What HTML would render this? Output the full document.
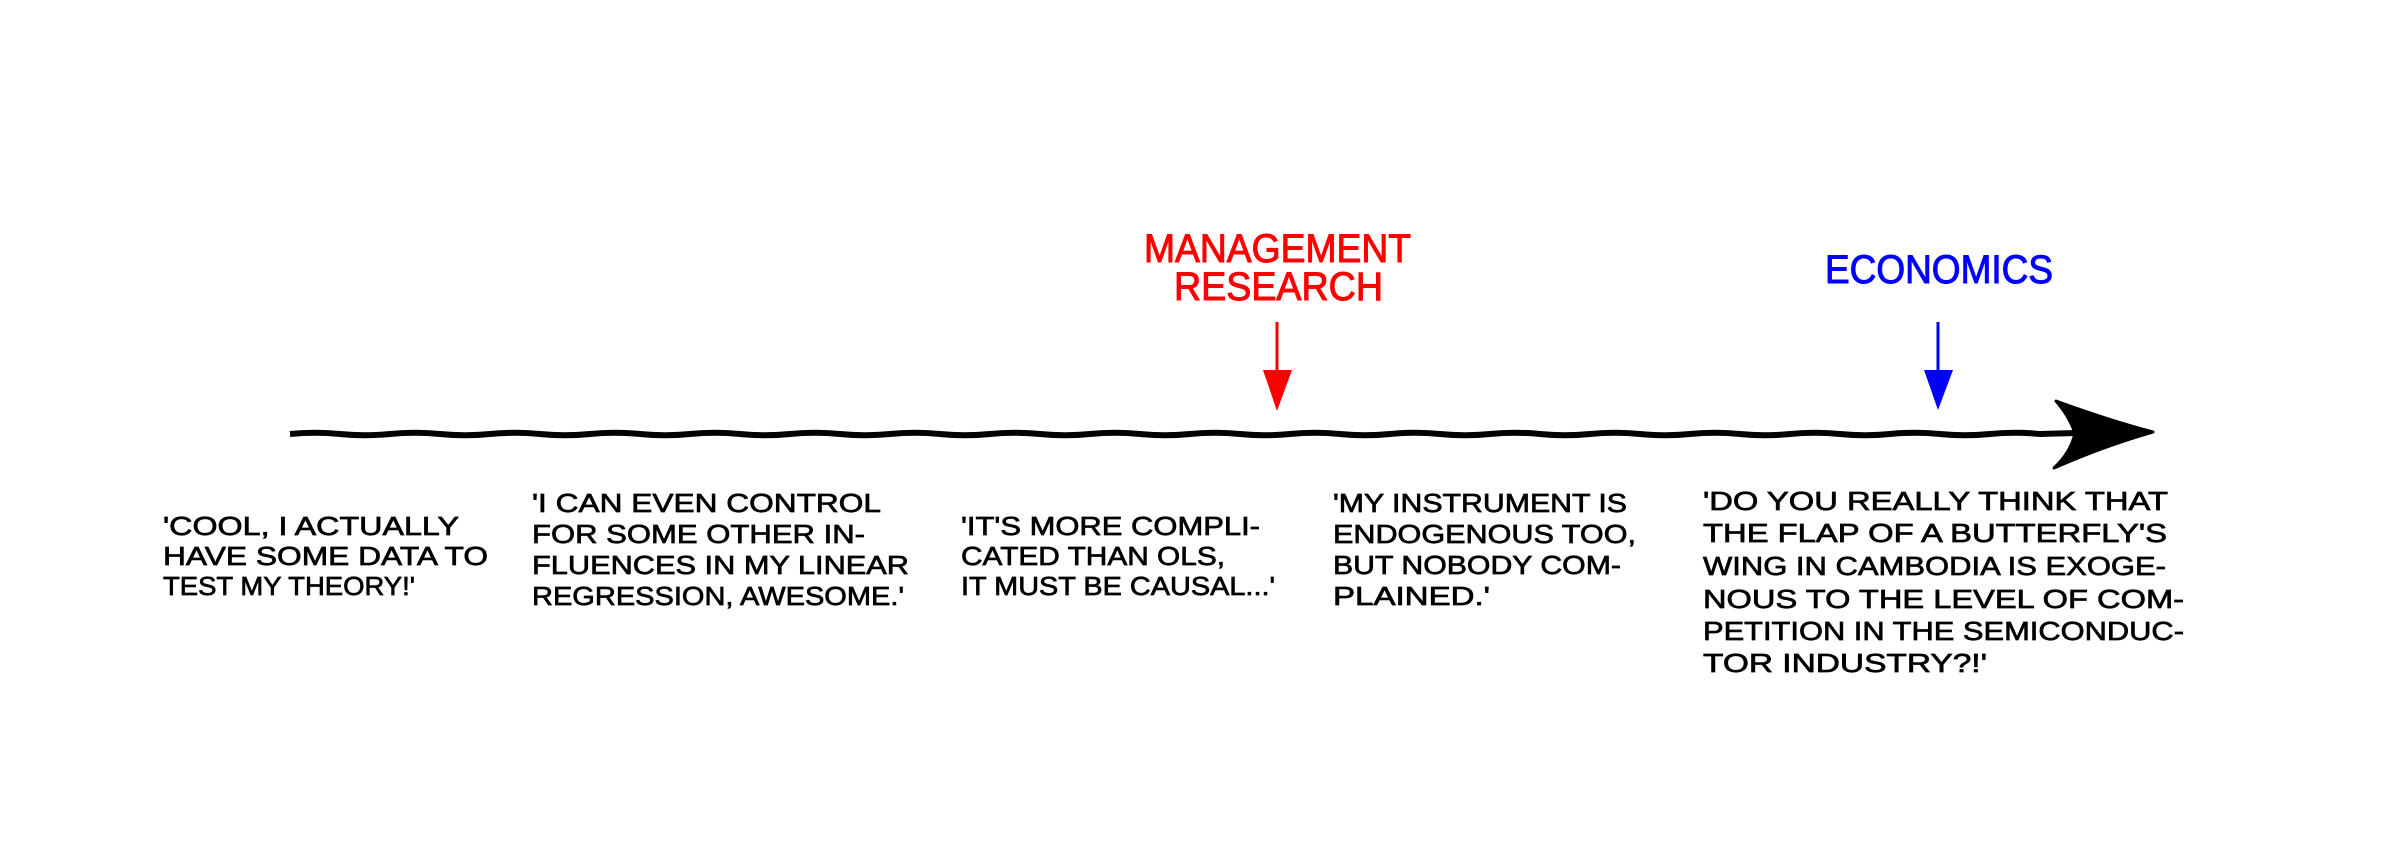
<!DOCTYPE html>
<html><head><meta charset="utf-8"><style>html,body{margin:0;padding:0;background:#fff}svg{display:block}</style></head>
<body>
<svg width="2391" height="858" viewBox="0 0 2391 858" xmlns="http://www.w3.org/2000/svg">
<rect width="2391" height="858" fill="#fff"/>
<path d="M290 434 q25 -2.5 50 0 t50 0 t50 0 t50 0 t50 0 t50 0 t50 0 t50 0 t50 0 t50 0 t50 0 t50 0 t50 0 t50 0 t50 0 t50 0 t50 0 t50 0 t50 0 t50 0 t50 0 t50 0 t50 0 t50 0 t50 0 t50 0 t50 0 t50 0 t50 0 t50 0 t50 0 t50 0 t50 0 t50 0 t50 0 L2075 433" fill="none" stroke="#000" stroke-width="6"/>
<path d="M2056 401 Q2108 420 2153 432 Q2104 446 2054 468 Q2071 452 2075 433 Q2069 416 2056 401 Z" fill="#000" stroke="#000" stroke-width="3" stroke-linejoin="round"/>
<g font-family="Liberation Sans, sans-serif" fill="#f00" stroke="#f00" stroke-width="1" font-size="40">
<text x="1144" y="262" textLength="267" lengthAdjust="spacingAndGlyphs">MANAGEMENT</text>
<text x="1174" y="300" textLength="209" lengthAdjust="spacingAndGlyphs">RESEARCH</text>
</g>
<line x1="1277" y1="322" x2="1277" y2="372" stroke="#f00" stroke-width="3"/>
<path d="M1263 370 L1292 370 L1277 411 Z" fill="#f00"/>
<text x="1825" y="283" font-family="Liberation Sans, sans-serif" fill="#00f" stroke="#00f" stroke-width="1" font-size="40" textLength="228" lengthAdjust="spacingAndGlyphs">ECONOMICS</text>
<line x1="1938" y1="322" x2="1938" y2="372" stroke="#00f" stroke-width="3"/>
<path d="M1924 370 L1953 370 L1938 410 Z" fill="#00f"/>
<g font-family="Liberation Sans, sans-serif" fill="#000" stroke="#000" stroke-width="0.7" font-size="26">
<text x="163" y="535" textLength="296" lengthAdjust="spacingAndGlyphs">'COOL, I ACTUALLY</text>
<text x="163" y="565" textLength="325" lengthAdjust="spacingAndGlyphs">HAVE SOME DATA TO</text>
<text x="163" y="595" textLength="252" lengthAdjust="spacingAndGlyphs">TEST MY THEORY!'</text>

<text x="532" y="512" textLength="349" lengthAdjust="spacingAndGlyphs">'I CAN EVEN CONTROL</text>
<text x="532" y="543" textLength="333" lengthAdjust="spacingAndGlyphs">FOR SOME OTHER IN-</text>
<text x="532" y="574" textLength="377" lengthAdjust="spacingAndGlyphs">FLUENCES IN MY LINEAR</text>
<text x="532" y="605" textLength="372" lengthAdjust="spacingAndGlyphs">REGRESSION, AWESOME.'</text>

<text x="961" y="535" textLength="299" lengthAdjust="spacingAndGlyphs">'IT'S MORE COMPLI-</text>
<text x="961" y="565" textLength="264" lengthAdjust="spacingAndGlyphs">CATED THAN OLS,</text>
<text x="961" y="595" textLength="314" lengthAdjust="spacingAndGlyphs">IT MUST BE CAUSAL...'</text>

<text x="1333" y="512" textLength="294" lengthAdjust="spacingAndGlyphs">'MY INSTRUMENT IS</text>
<text x="1333" y="543" textLength="303" lengthAdjust="spacingAndGlyphs">ENDOGENOUS TOO,</text>
<text x="1333" y="574" textLength="288" lengthAdjust="spacingAndGlyphs">BUT NOBODY COM-</text>
<text x="1333" y="605" textLength="157" lengthAdjust="spacingAndGlyphs">PLAINED.'</text>

<text x="1703" y="510" textLength="465" lengthAdjust="spacingAndGlyphs">'DO YOU REALLY THINK THAT</text>
<text x="1703" y="542" textLength="464" lengthAdjust="spacingAndGlyphs">THE FLAP OF A BUTTERFLY'S</text>
<text x="1703" y="575" textLength="463" lengthAdjust="spacingAndGlyphs">WING IN CAMBODIA IS EXOGE-</text>
<text x="1703" y="608" textLength="481" lengthAdjust="spacingAndGlyphs">NOUS TO THE LEVEL OF COM-</text>
<text x="1703" y="640" textLength="481" lengthAdjust="spacingAndGlyphs">PETITION IN THE SEMICONDUC-</text>
<text x="1703" y="672" textLength="284" lengthAdjust="spacingAndGlyphs">TOR INDUSTRY?!'</text>
</g>
</svg>
</body></html>
